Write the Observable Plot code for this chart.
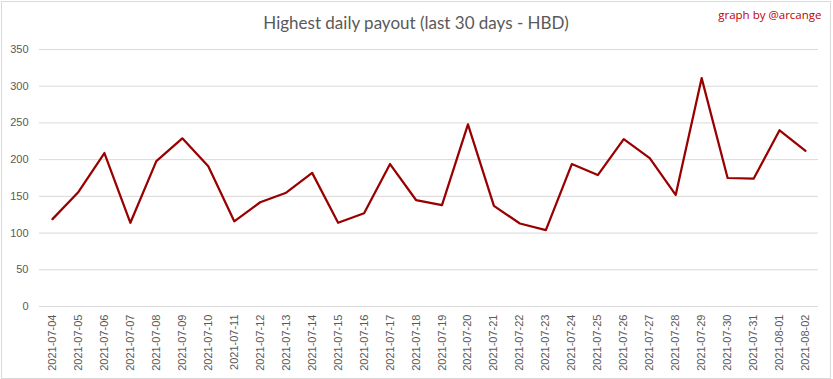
<!DOCTYPE html>
<html>
<head>
<meta charset="utf-8">
<script src="https://cdn.jsdelivr.net/npm/d3@7"></script>
<script src="https://cdn.jsdelivr.net/npm/@observablehq/plot@0.6"></script>
<style>
  html, body { margin: 0; padding: 0; background: #fff; }
  #wrap { position: relative; width: 833px; height: 379px; overflow: hidden; }
  #border { position: absolute; left: 1px; top: 1px; width: 830px; height: 378px; box-sizing: border-box; border: 1px solid #d9d9d9; pointer-events: none; }
</style>
</head>
<body>
<div id="wrap"><div id="border"></div></div>
<script>
const titleText = "Highest daily payout (last 30 days - HBD)";
const creditText = "graph by @arcange";

const dates = [
  "2021-07-04","2021-07-05","2021-07-06","2021-07-07","2021-07-08","2021-07-09","2021-07-10",
  "2021-07-11","2021-07-12","2021-07-13","2021-07-14","2021-07-15","2021-07-16","2021-07-17",
  "2021-07-18","2021-07-19","2021-07-20","2021-07-21","2021-07-22","2021-07-23","2021-07-24",
  "2021-07-25","2021-07-26","2021-07-27","2021-07-28","2021-07-29","2021-07-30","2021-07-31",
  "2021-08-01","2021-08-02"
];
const payouts = [
  119, 156, 209, 114, 198, 229, 191,
  116, 142, 155, 182, 114, 127, 194,
  145, 138, 248, 137, 113, 104, 194,
  179, 228, 202, 152, 311, 175, 174,
  240, 212
];
const yTicks = [0, 50, 100, 150, 200, 250, 300, 350];

const data = dates.map((d, i) => ({date: d, value: payouts[i]}));

const chart = Plot.plot({
  width: 833,
  height: 379,
  marginTop: 49,
  marginBottom: 73,
  marginLeft: 39,
  marginRight: 15,
  style: {fontFamily: "'Liberation Sans', Arial, sans-serif", fontSize: "11px", color: "#595959", background: "transparent", overflow: "visible"},
  x: {type: "point", domain: dates, padding: 0.5, round: false},
  y: {domain: [0, 350]},
  marks: [
    Plot.ruleY(yTicks, {stroke: "#d9d9d9", strokeWidth: 1}),
    Plot.axisY(yTicks, {tickSize: 0, tickPadding: 11, label: null, fill: "#595959"}),
    Plot.axisX({tickSize: 0, tickRotate: -90, tickPadding: 8, label: null, fill: "#595959"}),
    Plot.line(data, {x: "date", y: "value", stroke: "#990000", strokeWidth: 2.25, strokeLinejoin: "round", strokeLinecap: "round"}),
    Plot.text([titleText], {frameAnchor: "top", dx: -13, dy: -33, text: d => d, fill: "#595959", fontSize: 17, fontFamily: "Lato, 'Open Sans', sans-serif", fontWeight: 400}),
    Plot.text([creditText], {frameAnchor: "top-right", dx: 3, dy: -39, textAnchor: "end", text: d => d, fill: "#c00000", fontSize: 11.5, fontFamily: "'Open Sans', sans-serif"})
  ]
});
document.getElementById("wrap").prepend(chart);
</script>
</body>
</html>
